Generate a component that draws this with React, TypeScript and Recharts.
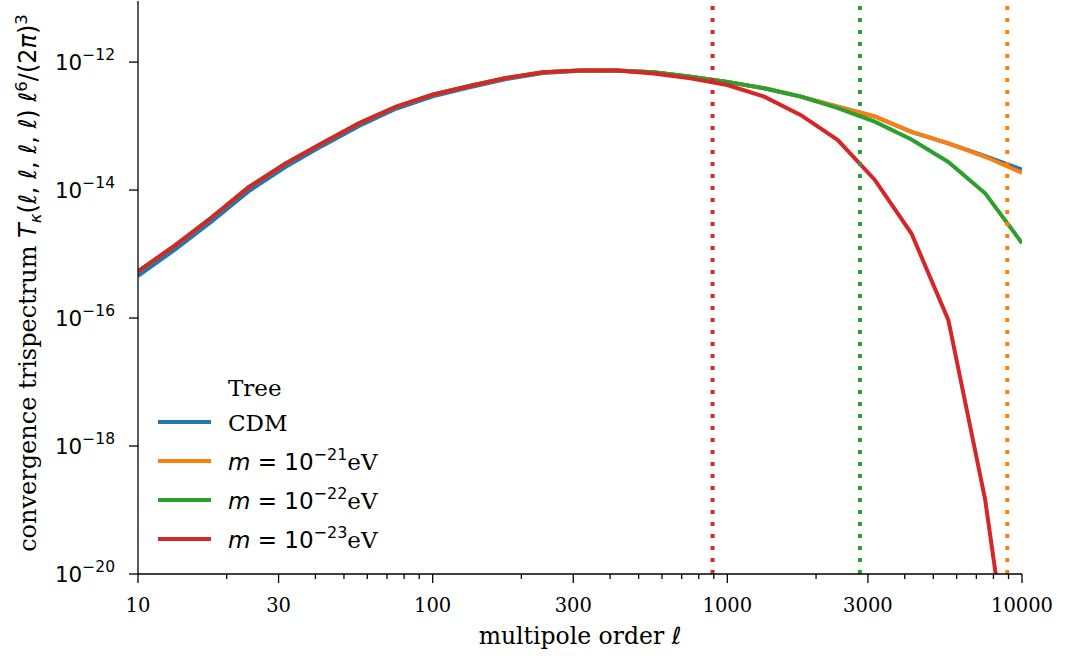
import React from 'react';
import { LineChart, Line, XAxis, YAxis, ReferenceLine } from 'recharts';

// multipole order ℓ (8 samples per decade)
const multipoles = [10, 13.34, 17.78, 23.71, 31.62, 42.17, 56.23, 74.99, 100, 133.4, 177.8, 237.1, 316.2, 421.7, 562.3, 749.9, 1000, 1334, 1778, 2371, 3162, 4217, 5623, 7499, 10000];

const cdm = [4.57e-16, 1.17e-15, 3.24e-15, 9.55e-15, 2.29e-14, 4.9e-14, 1.0e-13, 1.86e-13, 2.92e-13, 4.03e-13, 5.43e-13, 6.76e-13, 7.33e-13, 7.41e-13, 6.92e-13, 5.89e-13, 4.9e-13, 3.89e-13, 2.88e-13, 2.0e-13, 1.41e-13, 8.13e-14, 5.37e-14, 3.39e-14, 2.09e-14];
const m21 = [5.37e-16, 1.35e-15, 3.72e-15, 1.1e-14, 2.57e-14, 5.37e-14, 1.1e-13, 2.0e-13, 3.09e-13, 4.22e-13, 5.62e-13, 6.92e-13, 7.41e-13, 7.41e-13, 6.92e-13, 5.89e-13, 4.9e-13, 3.89e-13, 2.88e-13, 2.0e-13, 1.41e-13, 8.13e-14, 5.37e-14, 3.31e-14, 1.86e-14];
const m22 = [5.37e-16, 1.35e-15, 3.72e-15, 1.1e-14, 2.57e-14, 5.37e-14, 1.1e-13, 2.0e-13, 3.09e-13, 4.22e-13, 5.62e-13, 6.92e-13, 7.41e-13, 7.41e-13, 6.92e-13, 5.89e-13, 4.9e-13, 3.89e-13, 2.88e-13, 1.91e-13, 1.17e-13, 6.17e-14, 2.75e-14, 8.91e-15, 1.48e-15];
const m23 = [5.37e-16, 1.35e-15, 3.72e-15, 1.1e-14, 2.57e-14, 5.37e-14, 1.1e-13, 2.0e-13, 3.09e-13, 4.22e-13, 5.62e-13, 6.92e-13, 7.41e-13, 7.41e-13, 6.61e-13, 5.56e-13, 4.37e-13, 2.88e-13, 1.48e-13, 6.03e-14, 1.45e-14, 2.09e-15, 9.33e-17, 1.45e-19, 1.26e-23];

// vertical dotted marker positions (orange, green, red)
const cutoffs = [8913, 2818, 891];

const xMajorTicks = [10, 30, 100, 300, 1000, 3000, 10000];
const xMinorTicks = [20, 40, 50, 60, 70, 80, 90, 200, 400, 500, 600, 700, 800, 900, 2000, 4000, 5000, 6000, 7000, 8000, 9000];
const yTickExponents = [-20, -18, -16, -14, -12];

const series = [
  { key: 'cdm', color: '#1f77b4', label: 'CDM', exp: null as number | null },
  { key: 'm21', color: '#ff7f0e', label: 'm', exp: -21 },
  { key: 'm22', color: '#2ca02c', label: 'm', exp: -22 },
  { key: 'm23', color: '#d62728', label: 'm', exp: -23 },
];
const cutoffColors = ['#ff7f0e', '#2ca02c', '#d62728'];

const data = multipoles.map((l, i) => ({ l, cdm: cdm[i], m21: m21[i], m22: m22[i], m23: m23[i] }));
const yTicks = yTickExponents.map((e) => Math.pow(10, e));
const xTicks = [...xMajorTicks, ...xMinorTicks].sort((a, b) => a - b);

const SERIF = '"DejaVu Serif", serif';
const SANS = '"DejaVu Sans", sans-serif';

const XTick = (props: any) => {
  const { x, y, payload } = props;
  const major = xMajorTicks.includes(payload.value);
  return (
    <g>
      <line x1={x} x2={x} y1={y} y2={y + (major ? 9 : 5)} stroke="#000" strokeWidth={1.3} />
      {major && (
        <text x={x} y={y + 38} textAnchor="middle" fontFamily={SERIF} fontSize={19.5} fill="#000">
          {String(payload.value)}
        </text>
      )}
    </g>
  );
};

const YTick = (props: any) => {
  const { x, y, payload } = props;
  const e = Math.round(Math.log10(payload.value));
  return (
    <g>
      <line x1={x - 9} x2={x} y1={y} y2={y} stroke="#000" strokeWidth={1.3} />
      <text x={x - 23} y={y + 8} textAnchor="end" fontFamily={SANS} fontSize={21.5} fill="#000">
        10<tspan fontSize={15.5} dy={-10}>{'\u2212' + Math.abs(e)}</tspan>
      </text>
    </g>
  );
};

export default function App() {
  return (
    <div style={{ position: 'absolute', left: 0, top: 0, width: 1072, height: 662, background: '#fff' }}>
      <LineChart
        width={1072}
        height={662}
        data={data}
        margin={{ top: 1, right: 50, bottom: 38, left: 38 }}
      >
        <XAxis
          dataKey="l"
          type="number"
          scale="log"
          domain={[10, 10000]}
          allowDataOverflow
          ticks={xTicks}
          interval={0}
          tick={XTick}
          tickLine={false}
          tickSize={0}
          tickMargin={0}
          height={50}
          axisLine={{ stroke: '#000', strokeWidth: 1.3 }}
        />
        <XAxis
          xAxisId="top"
          orientation="top"
          type="number"
          domain={[0, 1]}
          tick={false}
          tickLine={false}
          height={0}
          axisLine={{ stroke: '#000', strokeWidth: 1.3 }}
        />
        <YAxis
          type="number"
          scale="log"
          domain={[1e-20, 9e-12]}
          allowDataOverflow
          ticks={yTicks}
          interval={0}
          tick={YTick}
          tickLine={false}
          tickSize={0}
          tickMargin={0}
          width={100}
          axisLine={{ stroke: '#000', strokeWidth: 1.3 }}
        />
        <YAxis
          yAxisId="right"
          orientation="right"
          type="number"
          domain={[0, 1]}
          tick={false}
          tickLine={false}
          width={0}
          axisLine={{ stroke: '#000', strokeWidth: 1.3 }}
        />
        {series.map((s) => (
          <Line
            key={s.key}
            dataKey={s.key}
            type="linear"
            stroke={s.color}
            strokeWidth={4}
            dot={false}
            isAnimationActive={false}
          />
        ))}
        {cutoffs.map((c, i) => (
          <ReferenceLine
            key={c}
            x={c}
            stroke={cutoffColors[i]}
            strokeWidth={4}
            strokeDasharray="4 8"
            ifOverflow="hidden"
          />
        ))}
      </LineChart>
      <svg
        width={1072}
        height={662}
        style={{ position: 'absolute', left: 0, top: 0, pointerEvents: 'none' }}
      >
        <text x={580} y={644} textAnchor="middle" fontFamily={SERIF} fontSize={23.5} fill="#000">
          multipole order <tspan fontFamily={SANS} fontStyle="italic">ℓ</tspan>
        </text>
        <text
          transform="translate(36,283) rotate(-90)"
          textAnchor="middle"
          fontFamily={SERIF}
          fontSize={24}
          fill="#000"
        >
          convergence trispectrum{' '}
          <tspan fontFamily={SANS} fontStyle="italic">T</tspan>
          <tspan fontFamily={SANS} fontStyle="italic" fontSize={16.5} dy={5}>κ</tspan>
          <tspan fontFamily={SANS} dy={-5}>(</tspan>
          <tspan fontFamily={SANS} fontStyle="italic">ℓ</tspan>
          <tspan fontFamily={SANS}>, </tspan>
          <tspan fontFamily={SANS} fontStyle="italic">ℓ</tspan>
          <tspan fontFamily={SANS}>, </tspan>
          <tspan fontFamily={SANS} fontStyle="italic">ℓ</tspan>
          <tspan fontFamily={SANS}>, </tspan>
          <tspan fontFamily={SANS} fontStyle="italic">ℓ</tspan>
          <tspan fontFamily={SANS}>) </tspan>
          <tspan fontFamily={SANS} fontStyle="italic">ℓ</tspan>
          <tspan fontFamily={SANS} fontSize={16.5} dy={-9}>6</tspan>
          <tspan fontFamily={SANS} dy={9}>/(2</tspan>
          <tspan fontFamily={SANS} fontStyle="italic">π</tspan>
          <tspan fontFamily={SANS}>)</tspan>
          <tspan fontFamily={SANS} fontSize={16.5} dy={-9}>3</tspan>
        </text>
        <g>
          <text x={228} y={396} fontFamily={SERIF} fontSize={23} fill="#000">Tree</text>
          {series.map((s, i) => {
            const y = 422 + i * 39;
            return (
              <g key={s.key}>
                <line x1={158} x2={211} y1={y} y2={y} stroke={s.color} strokeWidth={4} />
                {s.exp === null ? (
                  <text x={228} y={y + 9} fontFamily={SERIF} fontSize={23} fill="#000">{s.label}</text>
                ) : (
                  <text x={228} y={y + 9} fontFamily={SANS} fontSize={23} fill="#000">
                    <tspan fontStyle="italic">{s.label}</tspan>
                    <tspan>{' = 10'}</tspan>
                    <tspan fontSize={16} dy={-10}>{'\u2212' + Math.abs(s.exp)}</tspan>
                    <tspan fontFamily={SERIF} dy={10}>eV</tspan>
                  </text>
                )}
              </g>
            );
          })}
        </g>
      </svg>
    </div>
  );
}
